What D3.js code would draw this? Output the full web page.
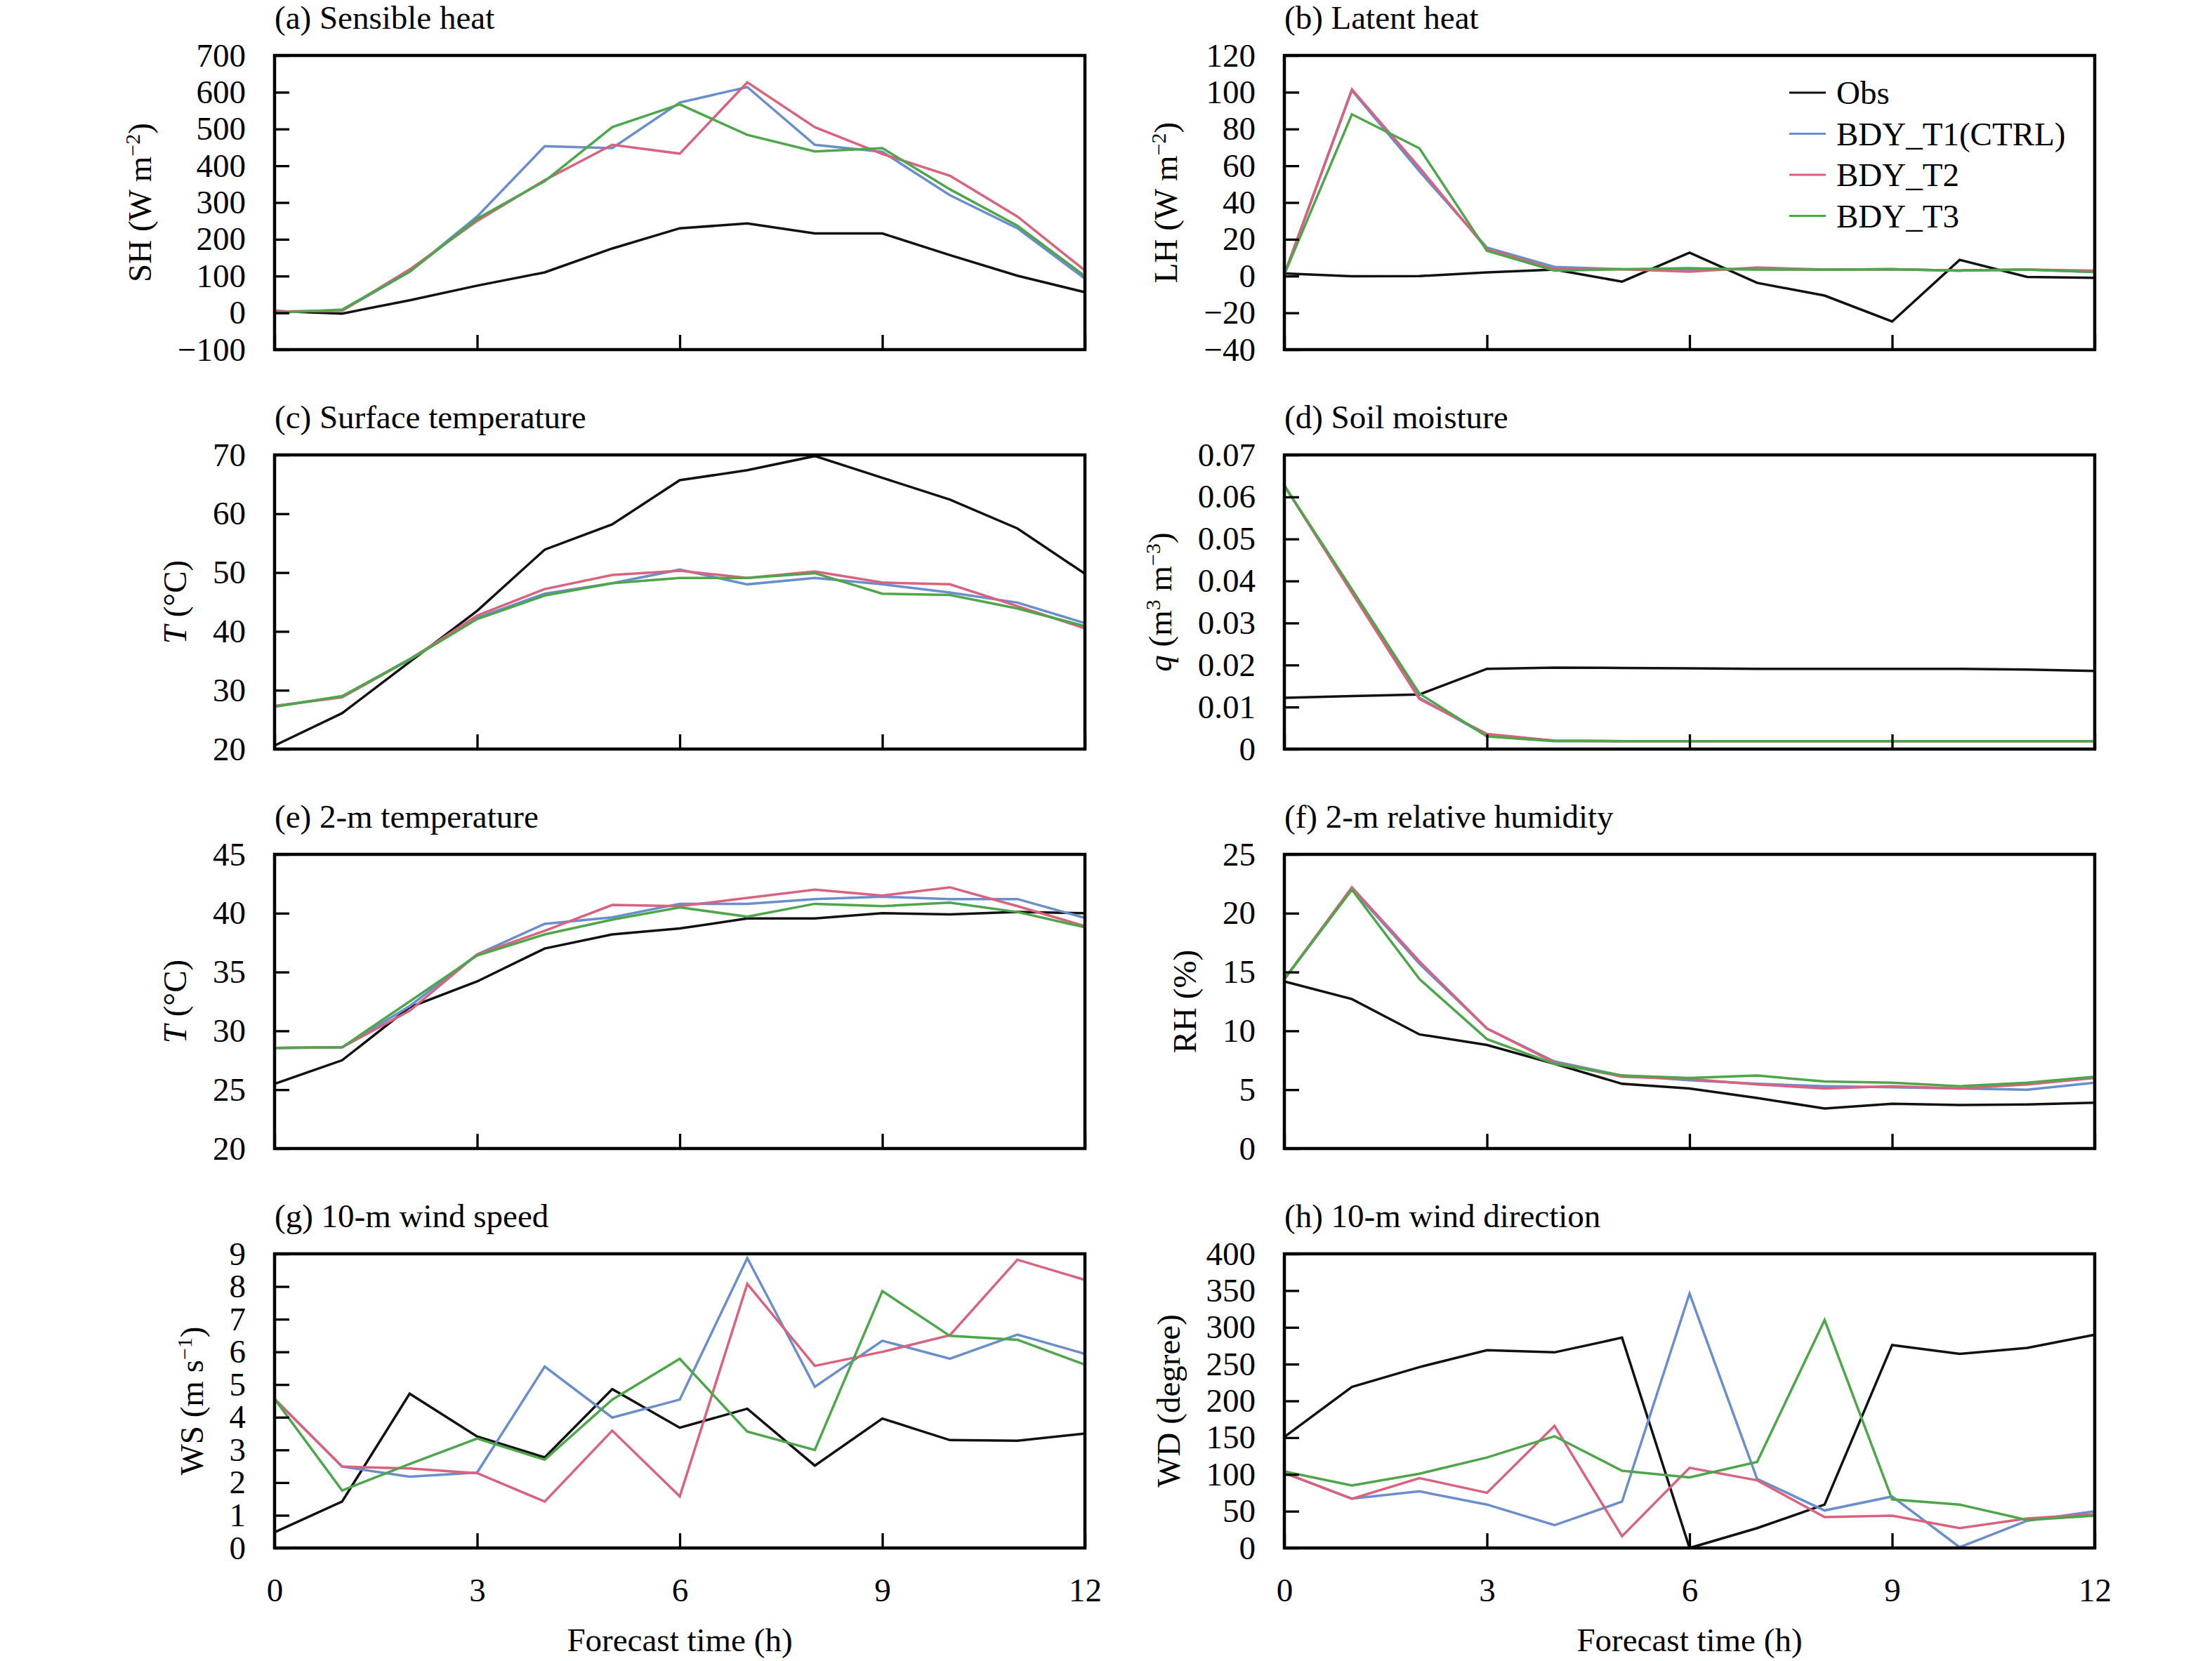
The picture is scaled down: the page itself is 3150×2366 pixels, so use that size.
<!DOCTYPE html>
<html>
<head>
<meta charset="utf-8">
<script src="https://cdn.jsdelivr.net/npm/d3@7"></script>
<style>
  body { margin: 0; background: #fff; }
  text { font-family: "Liberation Serif", "Times New Roman", serif; fill: #000; }
</style>
</head>
<body>
<div id="chart"></div>
<script>

var hours = [0, 1, 2, 3, 4, 5, 6, 7, 8, 9, 10, 11, 12];
var hourTicks = [0, 3, 6, 9, 12];
var seriesNames = ['Obs', 'BDY_T1(CTRL)', 'BDY_T2', 'BDY_T3'];

// (a) sensible heat
var shTicks = [-100, 0, 100, 200, 300, 400, 500, 600, 700];
var shObs = [5, -2, 34, 74, 110, 175, 230, 243, 216, 216, 157, 101, 56];
var shT1 = [3, 6, 112, 262, 453, 448, 572, 614, 457, 438, 320, 230, 93];
var shT2 = [3, 6, 118, 250, 361, 457, 433, 627, 505, 432, 373, 262, 115];
var shT3 = [0, 9, 112, 256, 358, 505, 567, 484, 439, 448, 336, 237, 100];

// (b) latent heat
var lhTicks = [-40, -20, 0, 20, 40, 60, 80, 100, 120];
var lhObs = [1.4, -0.1, 0, 2, 3.5, -3, 12.7, -3.7, -10.6, -24.7, 8.8, -0.5, -1];
var lhT1 = [1, 101, 57, 15.5, 5, 3.7, 3.5, 3.7, 3.5, 3.7, 3, 3.5, 2.2];
var lhT2 = [1, 101.5, 59, 14.6, 3.7, 3.7, 2.4, 4.7, 3.5, 3.7, 3, 3.5, 3];
var lhT3 = [1, 88, 69.5, 13.7, 3, 3.7, 4.3, 3.5, 3.5, 3.7, 3, 3.5, 2.2];

// (c) surface temperature
var tsTicks = [20, 30, 40, 50, 60, 70];
var tsObs = [20.6, 26.1, 34.8, 43.5, 53.9, 58.2, 65.7, 67.4, 69.8, 66.1, 62.4, 57.5, 49.8];
var tsT1 = [27.3, 28.9, 35.3, 42.3, 46.4, 48.2, 50.5, 48.0, 49.1, 48.0, 46.6, 44.9, 41.4];
var tsT2 = [27.3, 28.8, 35.2, 42.7, 47.2, 49.6, 50.3, 49.1, 50.2, 48.3, 48.0, 44.3, 40.5];
var tsT3 = [27.2, 29.0, 35.2, 42.1, 46.1, 48.2, 49.1, 49.1, 49.9, 46.4, 46.2, 43.9, 40.9];

// (d) soil moisture
var smTicks = [0, 0.01, 0.02, 0.03, 0.04, 0.05, 0.06, 0.07];
var smObs = [0.0122, 0.0126, 0.013, 0.0191, 0.0194, 0.0193, 0.0192, 0.0191, 0.0191, 0.0191, 0.0191, 0.0189, 0.0186];
var smT1 = [0.0627, 0.0375, 0.0122, 0.0032, 0.002, 0.0019, 0.0019, 0.0019, 0.0019, 0.0019, 0.0019, 0.0019, 0.0019];
var smT2 = [0.0627, 0.0372, 0.0119, 0.0036, 0.002, 0.0019, 0.0019, 0.0019, 0.0019, 0.0019, 0.0019, 0.0019, 0.0019];
var smT3 = [0.0627, 0.038, 0.0132, 0.003, 0.0019, 0.0019, 0.0019, 0.0019, 0.0019, 0.0019, 0.0019, 0.0019, 0.0019];

// (e) 2-m temperature
var t2Ticks = [20, 25, 30, 35, 40, 45];
var t2Obs = [25.5, 27.5, 32.0, 34.2, 37.0, 38.2, 38.7, 39.55, 39.55, 40.0, 39.9, 40.1, 40.0];
var t2T1 = [28.55, 28.6, 32.1, 36.5, 39.1, 39.65, 40.8, 40.8, 41.2, 41.4, 41.2, 41.2, 39.6];
var t2T2 = [28.55, 28.6, 31.7, 36.5, 38.5, 40.7, 40.6, 41.3, 42.0, 41.5, 42.2, 40.6, 38.9];
var t2T3 = [28.55, 28.6, 32.5, 36.4, 38.2, 39.45, 40.5, 39.7, 40.8, 40.6, 40.9, 40.1, 38.8];

// (f) 2-m relative humidity
var rhTicks = [0, 5, 10, 15, 20, 25];
var rhObs = [14.2, 12.7, 9.7, 8.8, 7.2, 5.5, 5.1, 4.3, 3.4, 3.8, 3.7, 3.75, 3.9];
var rhT1 = [14.4, 22.1, 15.7, 10.2, 7.4, 6.2, 5.8, 5.5, 5.3, 5.2, 5.1, 5.0, 5.6];
var rhT2 = [14.4, 22.2, 15.9, 10.2, 7.3, 6.1, 5.9, 5.45, 5.1, 5.3, 5.1, 5.45, 6.0];
var rhT3 = [14.4, 22.0, 14.4, 9.3, 7.2, 6.2, 6.0, 6.2, 5.7, 5.6, 5.3, 5.6, 6.1];

// (g) 10-m wind speed
var wsTicks = [0, 1, 2, 3, 4, 5, 6, 7, 8, 9];
var wsObs = [0.48, 1.42, 4.72, 3.41, 2.77, 4.86, 3.68, 4.26, 2.52, 3.96, 3.30, 3.28, 3.50];
var wsT1 = [4.56, 2.49, 2.18, 2.31, 5.55, 3.99, 4.54, 8.87, 4.93, 6.34, 5.79, 6.53, 5.94];
var wsT2 = [4.56, 2.49, 2.43, 2.29, 1.42, 3.59, 1.58, 8.08, 5.57, 6.0, 6.51, 8.82, 8.20];
var wsT3 = [4.56, 1.76, 2.57, 3.35, 2.70, 4.54, 5.79, 3.56, 3.0, 7.86, 6.49, 6.37, 5.61];

// (h) 10-m wind direction
var wdTicks = [0, 50, 100, 150, 200, 250, 300, 350, 400];
var wdObs = [151, 219, 246, 269, 266, 286, 0, 27, 59, 276, 264, 272, 290];
var wdT1 = [102, 67, 77, 59, 31, 63, 346, 94, 51, 70, 1, 37, 50];
var wdT2 = [102, 67, 95, 75, 166, 16, 109, 92, 42, 44, 27, 40, 46];
var wdT3 = [104, 85, 101, 123, 152, 105, 96, 117, 310, 66, 59, 38, 44];

var colors = ['#111111', '#6a8dcb', '#d9627e', '#4ea64a'];

var panels = [
  { title: '(a) Sensible heat', ticks: shTicks, data: [shObs, shT1, shT2, shT3],
    label: [['SH (W m'], ['\u22122', 'sup'], [')']] },
  { title: '(b) Latent heat', ticks: lhTicks, data: [lhObs, lhT1, lhT2, lhT3],
    label: [['LH (W m'], ['\u22122', 'sup'], [')']], legend: true },
  { title: '(c) Surface temperature', ticks: tsTicks, data: [tsObs, tsT1, tsT2, tsT3],
    label: [['T', 'it'], [' (\u00b0C)']] },
  { title: '(d) Soil moisture', ticks: smTicks, data: [smObs, smT1, smT2, smT3],
    label: [['q', 'it'], [' (m'], ['3', 'sup'], [' m'], ['\u22123', 'sup'], [')']],
    fmt: function(d) { return d === 0 ? '0' : d3.format('.2f')(d); } },
  { title: '(e) 2-m temperature', ticks: t2Ticks, data: [t2Obs, t2T1, t2T2, t2T3],
    label: [['T', 'it'], [' (\u00b0C)']] },
  { title: '(f) 2-m relative humidity', ticks: rhTicks, data: [rhObs, rhT1, rhT2, rhT3],
    label: [['RH (%)']] },
  { title: '(g) 10-m wind speed', ticks: wsTicks, data: [wsObs, wsT1, wsT2, wsT3],
    label: [['WS (m s'], ['\u22121', 'sup'], [')']] },
  { title: '(h) 10-m wind direction', ticks: wdTicks, data: [wdObs, wdT1, wdT2, wdT3],
    label: [['WD (degree)']] }
];

var width = 3150, height = 2366;
var colLeft = [391, 1829], plotW = 1154, plotH = 419;
var rowTop = [79, 648, 1217, 1786];
var fs = 47;

var svg = d3.select('#chart').append('svg')
  .attr('width', width)
  .attr('height', height);

var x = d3.scaleLinear().domain([0, 12]).range([0, plotW]);

panels.forEach(function(p, i) {
  var col = i % 2, row = Math.floor(i / 2);
  var bottomRow = row === 3;
  var g = svg.append('g')
    .attr('transform', 'translate(' + colLeft[col] + ',' + rowTop[row] + ')');

  var y = d3.scaleLinear()
    .domain([p.ticks[0], p.ticks[p.ticks.length - 1]])
    .range([plotH, 0]);

  // series
  var line = d3.line()
    .x(function(d, k) { return x(hours[k]); })
    .y(function(d) { return y(d); });
  p.data.forEach(function(s, k) {
    g.append('path')
      .attr('d', line(s))
      .attr('fill', 'none')
      .attr('stroke', colors[k])
      .attr('stroke-width', 3.5);
  });

  // axes
  var yAxis = d3.axisLeft(y).tickValues(p.ticks).tickSize(-21).tickSizeOuter(0).tickPadding(41);
  if (p.fmt) yAxis.tickFormat(p.fmt);
  var ya = g.append('g').call(yAxis);

  var xAxis = d3.axisBottom(x).tickValues(hourTicks).tickSize(-21).tickSizeOuter(0).tickPadding(43);
  if (!bottomRow) xAxis.tickFormat('');
  var xa = g.append('g').attr('transform', 'translate(0,' + plotH + ')').call(xAxis);

  [ya, xa].forEach(function(a) {
    a.select('.domain').remove();
    a.selectAll('line').attr('stroke', '#000').attr('stroke-width', 3.3);
    a.selectAll('text').style('font-size', fs + 'px').attr('fill', '#000')
      .style('font-family', '"Liberation Serif", "Times New Roman", serif');
  });

  g.append('rect')
    .attr('width', plotW)
    .attr('height', plotH)
    .attr('fill', 'none')
    .attr('stroke', '#000')
    .attr('stroke-width', 4.5);

  // title
  g.append('text')
    .attr('x', 0)
    .attr('y', -38)
    .style('font-size', fs + 'px')
    .text(p.title);

  // y label, placed left of the widest tick label
  var maxW = d3.max(ya.selectAll('text').nodes(), function(n) { return n.getBBox().width; });
  var lx = -41 - maxW - 38;
  var lab = g.append('text')
    .attr('transform', 'translate(' + lx + ',' + (plotH / 2) + ') rotate(-90)')
    .attr('text-anchor', 'middle')
    .style('font-size', fs + 'px');
  p.label.forEach(function(part) {
    var t = lab.append('tspan').text(part[0]);
    if (part[1] === 'it') t.style('font-style', 'italic');
    if (part[1] === 'sup') t.attr('baseline-shift', 'super').style('font-size', '30px');
  });

  if (bottomRow) {
    g.append('text')
      .attr('x', plotW / 2)
      .attr('y', plotH + 147)
      .attr('text-anchor', 'middle')
      .style('font-size', fs + 'px')
      .text('Forecast time (h)');
  }

  if (p.legend) {
    var leg = g.selectAll('.legend')
      .data(seriesNames)
     .enter().append('g')
      .attr('class', 'legend')
      .attr('transform', function(d, k) { return 'translate(719,' + (53 + k * 58.5) + ')'; });
    leg.append('line')
      .attr('x1', 0).attr('x2', 52)
      .attr('stroke', function(d, k) { return colors[k]; })
      .attr('stroke-width', 3);
    leg.append('text')
      .attr('x', 67)
      .attr('y', 16)
      .style('font-size', fs + 'px')
      .text(function(d) { return d; });
  }
});

</script>
</body>
</html>
